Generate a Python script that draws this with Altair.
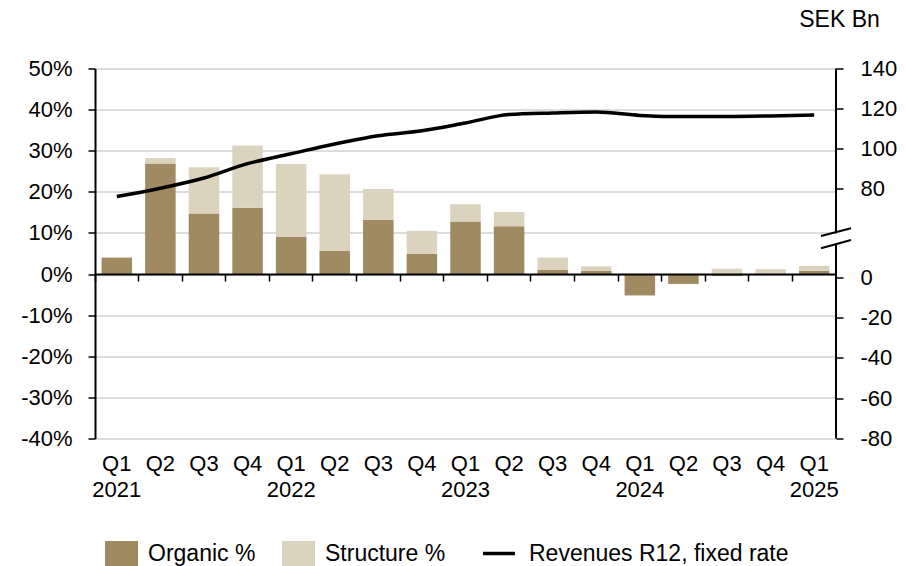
import altair as alt
import pandas as pd

# Quarterly growth split and rolling 12-month revenues
quarters = [
    "Q1 2021", "Q2 2021", "Q3 2021", "Q4 2021",
    "Q1 2022", "Q2 2022", "Q3 2022", "Q4 2022",
    "Q1 2023", "Q2 2023", "Q3 2023", "Q4 2023",
    "Q1 2024", "Q2 2024", "Q3 2024", "Q4 2024",
    "Q1 2025",
]
organic = [4.0, 26.9, 14.7, 16.1, 9.0, 5.6, 13.2, 4.9, 12.8, 11.6, 1.0, 0.8,
           -5.2, -2.4, -0.5, 0.0, 0.8]
structure = [-0.5, 1.3, 11.3, 15.2, 17.8, 18.7, 7.5, 5.6, 4.2, 3.5, 3.0, 1.1,
             0.0, 0.0, 1.3, 1.2, 1.2]
revenues = [75.8, 80.0, 85.1, 92.3, 97.3, 102.2, 106.3, 108.8, 112.7, 116.9,
            117.7, 118.2, 116.5, 115.9, 115.9, 116.2, 116.7]

components = ["Organic %", "Structure %"]
line_name = "Revenues R12, fixed rate"

rows = []
for q, o, s in zip(quarters, organic, structure):
    rows.append({"quarter": q, "component": components[0], "value": o, "order": 0})
    rows.append({"quarter": q, "component": components[1], "value": s, "order": 1})
bars_df = pd.DataFrame(rows)
line_df = pd.DataFrame({"quarter": quarters, "revenue": revenues, "series": line_name})

W, H = 741, 370
FONT = "Liberation Sans"
BROWN = "#9f8a62"
BEIGE = "#dcd3bf"

x_scale = alt.Scale(paddingInner=0, paddingOuter=0)

bars = alt.Chart(bars_df).mark_bar(width=alt.RelativeBandSize(0.7)).encode(
    x=alt.X(
        "quarter:N", sort=quarters, scale=x_scale,
        axis=alt.Axis(
            orient="bottom", title=None, ticks=False, domain=False, labelAngle=0,
            labelExpr="substring(datum.label,0,2)=='Q1' ? split(datum.label,' ') : substring(datum.label,0,2)",
            labelFontSize=22, labelPadding=15, labelLineHeight=26,
            labelBaseline="top", labelColor="black",
        ),
    ),
    y=alt.Y(
        "value:Q", stack="zero",
        scale=alt.Scale(domain=[-40, 50], nice=False, zero=False),
        axis=alt.Axis(
            title=None, values=list(range(-40, 51, 10)),
            labelExpr="datum.value + '%'", labelFontSize=22, labelPadding=16,
            labelColor="black",
            tickSize=7, tickColor="black", tickWidth=1.5,
            domainColor="black", domainWidth=2,
            grid=True, gridColor="#d2d2d2", gridWidth=1.5,
        ),
    ),
    fill=alt.Fill(
        "component:N",
        scale=alt.Scale(domain=components, range=[BROWN, BEIGE]),
        legend=alt.Legend(
            title=None, orient="none", legendX=10, legendY=469,
            direction="horizontal", symbolType="M-1,-0.8H1V0.8H-1Z",
            symbolSize=1089, symbolStrokeWidth=0, labelFontSize=23,
            labelOffset=10, columnPadding=26, padding=0, labelColor="black",
            labelLimit=400,
        ),
    ),
    order=alt.Order("order:Q"),
)

line = alt.Chart(line_df).mark_line(
    interpolate="monotone", strokeWidth=3.5
).encode(
    x=alt.X(
        "quarter:N", sort=quarters, scale=x_scale,
        axis=alt.Axis(
            orient="bottom", title=None, labels=False, grid=False, bandPosition=0,
            offset=-(H - H * 50 / 90), tickSize=7, tickColor="black",
            tickWidth=1.5, domainColor="black", domainWidth=2, zindex=1,
        ),
    ),
    y=alt.Y(
        "revenue:Q",
        scale=alt.Scale(domain=[-80, 0, 16, 58, 140],
                        range=[370, 208.5, 176, 163.6, 0],
                        nice=False, zero=False),
        axis=alt.Axis(
            orient="right", values=[-80, -60, -40, -20, 0, 80, 100, 120, 140],
            labelExpr="'' + datum.value", labelFontSize=22, labelPadding=17,
            labelColor="black",
            tickSize=7, tickColor="black", tickWidth=1.5,
            domain=False, grid=False,
            title="SEK Bn", titleAngle=0, titleX=3, titleY=-49,
            titleAlign="center", titleBaseline="middle",
            titleFontSize=23, titleFontWeight="normal", titleColor="black",
        ),
    ),
    stroke=alt.Stroke(
        "series:N",
        scale=alt.Scale(domain=[line_name], range=["black"]),
        legend=alt.Legend(
            title=None, orient="none", legendX=386, legendY=467,
            symbolType="stroke", symbolSize=1024, symbolStrokeWidth=3.5,
            labelFontSize=23, labelOffset=12, padding=0, labelColor="black",
            labelLimit=400,
        ),
    ),
)

# Right axis line with a scale break
one = alt.Data(values=[{}])
axis_top = alt.Chart(one).mark_rule(color="black", strokeWidth=2).encode(
    x=alt.value(W), y=alt.value(0), y2=alt.value(164.8))
axis_bottom = alt.Chart(one).mark_rule(color="black", strokeWidth=2).encode(
    x=alt.value(W), y=alt.value(176.5), y2=alt.value(H))
slash_a = alt.Chart(one).mark_rule(color="black", strokeWidth=2).encode(
    x=alt.value(W - 15), x2=alt.value(W + 15), y=alt.value(167.5), y2=alt.value(159.8))
slash_b = alt.Chart(one).mark_rule(color="black", strokeWidth=2).encode(
    x=alt.value(W - 15), x2=alt.value(W + 15), y=alt.value(179.8), y2=alt.value(171.5))

chart = alt.layer(bars, line, axis_top, axis_bottom, slash_a, slash_b).resolve_scale(
    y="independent"
).resolve_axis(
    x="independent"
).properties(
    width=W, height=H,
    padding={"left": 95, "top": 68.5, "right": 70, "bottom": 127.5},
    autosize=alt.AutoSizeParams(type="none"),
).configure_view(
    stroke=None
).configure_axis(
    labelFont=FONT, titleFont=FONT
).configure_legend(
    labelFont=FONT
)

chart.save("out.html", embed_options={"renderer": "svg", "actions": False})
